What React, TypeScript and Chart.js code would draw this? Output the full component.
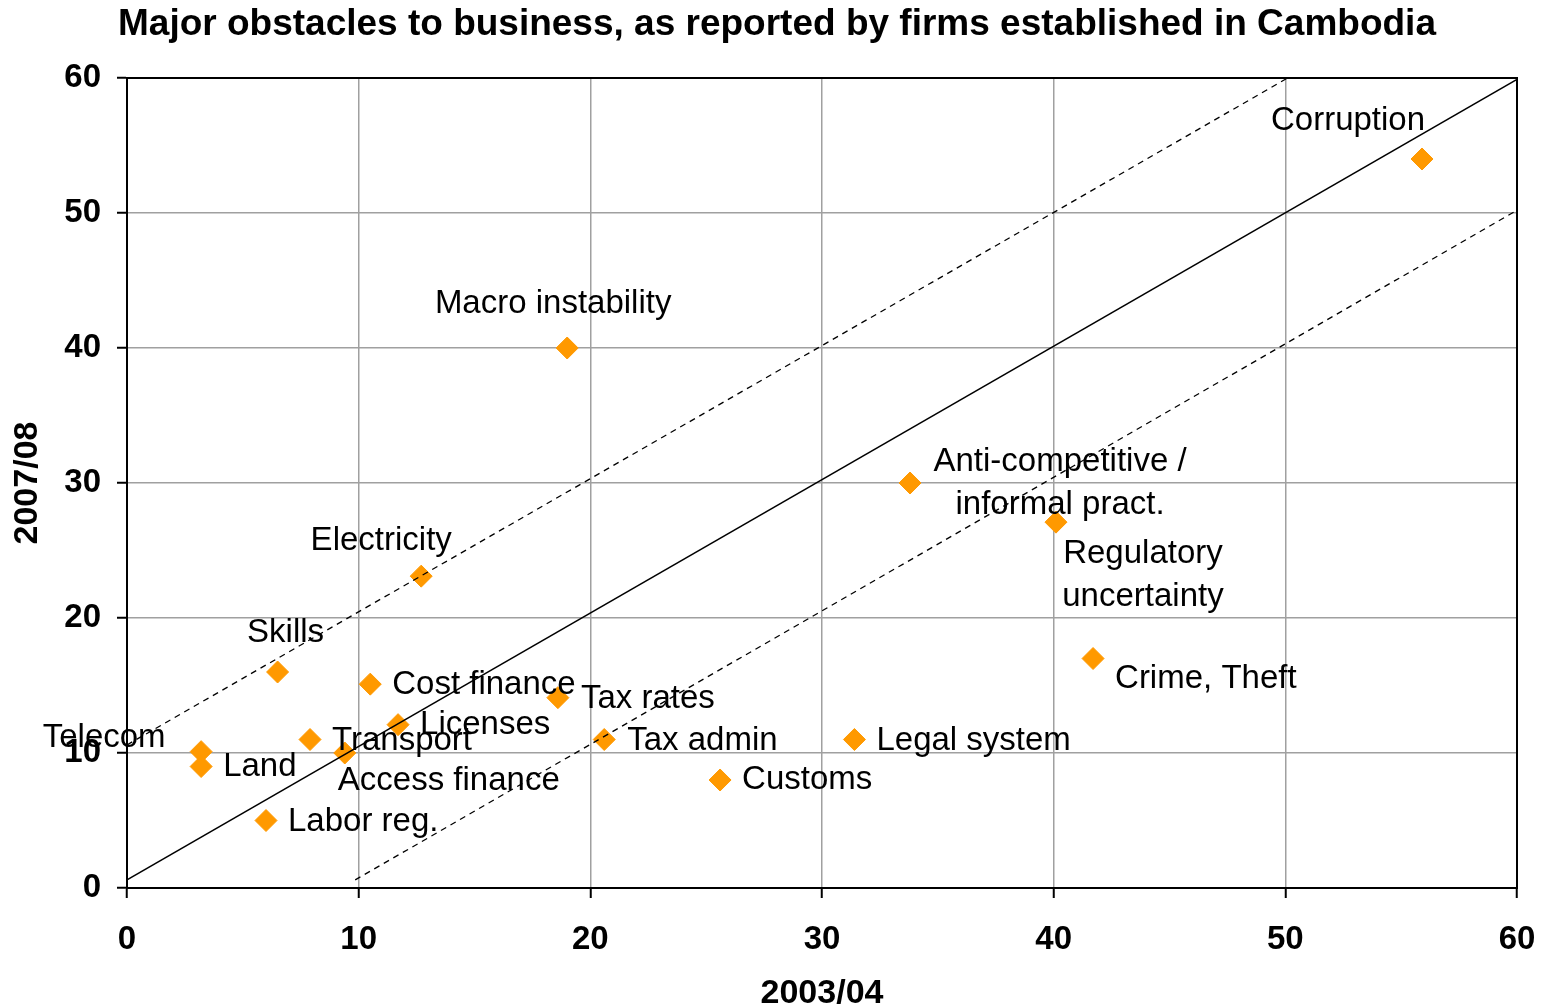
import React, { useEffect, useRef } from 'react';
import { Chart, registerables } from 'chart.js';

Chart.register(...registerables);

const FONT = "'Liberation Sans', Arial, Helvetica, sans-serif";

const CHART_TITLE = 'Major obstacles to business, as reported by firms established in Cambodia';
const X_TITLE = '2003/04';
const Y_TITLE = '2007/08';

const obstacles = [
  'Corruption',
  'Macro instability',
  'Anti-competitive /\ninformal pract.',
  'Regulatory\nuncertainty',
  'Crime, Theft',
  'Electricity',
  'Skills',
  'Cost finance',
  'Tax rates',
  'Licenses',
  'Tax admin',
  'Legal system',
  'Customs',
  'Transport',
  'Access finance',
  'Telecom',
  'Land',
  'Labor reg.',
];
const share2003 = [55.9, 19.0, 33.8, 40.1, 41.7, 12.7, 6.5, 10.5, 18.6, 11.7, 20.6, 31.4, 25.6, 7.9, 9.4, 3.2, 3.2, 6.0];
const share2007 = [54.0, 40.0, 30.0, 27.1, 17.0, 23.1, 16.0, 15.1, 14.1, 12.1, 11.0, 11.0, 8.0, 11.0, 10.0, 10.1, 9.0, 5.0];

// label placement (offsets from marker, in pixels)
const labelAlign = ['center', 'center', 'center', 'center', 'left', 'center', 'center', 'left', 'left', 'left', 'left', 'left', 'left', 'left', 'center', 'center', 'left', 'left'];
const labelDx = [-74, -14, 150, 87, 22, -40, 8, 22, 23, 22, 23, 22, 22, 22, 104, -97, 22, 22];
const labelDy = [-38, -44, 0, 53, 20, -35, -39, 1, 1, 0, 1, 1, 0, 1, 28, -14, 0, 1];

// reference lines
const diagX = [0, 60];
const diagY = [0.6, 59.9];
const upperX = [0, 50.1];
const upperY = [10.6, 60];
const lowerX = [9.85, 60];
const lowerY = [0.6, 50.2];

const AXIS_MIN = 0;
const AXIS_MAX = 60;
const AXIS_STEP = 10;

const toPoints = (xs: number[], ys: number[]) => xs.map((x, i) => ({ x, y: ys[i] }));

const decorations = {
  id: 'decorations',
  beforeDatasetsDraw(chart: any) {
    const { ctx, chartArea: a } = chart;
    ctx.save();
    ctx.strokeStyle = '#000';
    ctx.lineWidth = 2;
    ctx.strokeRect(a.left, a.top, a.right - a.left, a.bottom - a.top);
    ctx.restore();
  },
  afterDraw(chart: any) {
    const ctx = chart.ctx;
    ctx.save();
    ctx.fillStyle = '#000';
    ctx.textBaseline = 'middle';
    ctx.textAlign = 'left';
    ctx.font = `bold 37px ${FONT}`;
    ctx.fillText(CHART_TITLE, 118, 25);
    ctx.font = `33px ${FONT}`;
    const meta = chart.getDatasetMeta(3);
    meta.data.forEach((pt: any, i: number) => {
      const lines = obstacles[i].split('\n');
      const lh = 43;
      const cy = pt.y + labelDy[i] - ((lines.length - 1) * lh) / 2;
      ctx.textAlign = labelAlign[i];
      lines.forEach((ln: string, j: number) => {
        ctx.fillText(ln, pt.x + labelDx[i], cy + j * lh);
      });
    });
    ctx.restore();
  },
};

export default function App() {
  const ref = useRef<HTMLCanvasElement | null>(null);
  useEffect(() => {
    document.body.style.margin = '0';
    document.body.style.overflow = 'hidden';
    Chart.defaults.font.family = FONT;
    const scaleCommon = (tickPad: number) => ({
      type: 'linear' as const,
      min: AXIS_MIN,
      max: AXIS_MAX,
      ticks: {
        stepSize: AXIS_STEP,
        color: '#000',
        font: { size: 33, weight: 'bold' as const },
        padding: tickPad,
        maxRotation: 0,
        autoSkip: false,
      },
      grid: {
        color: '#a0a0a0',
        lineWidth: 1.5,
        tickColor: '#000',
        tickLength: 10,
        tickWidth: 2,
      },
      border: { color: '#000', width: 2 },
    });
    const chart = new Chart(ref.current as HTMLCanvasElement, {
      type: 'scatter',
      data: {
        datasets: [
          {
            data: toPoints(diagX, diagY),
            showLine: true,
            borderColor: '#000',
            borderWidth: 1.5,
            pointRadius: 0,
            fill: false,
          },
          {
            data: toPoints(upperX, upperY),
            showLine: true,
            borderColor: '#000',
            borderWidth: 1.3,
            borderDash: [6, 5],
            pointRadius: 0,
            fill: false,
          },
          {
            data: toPoints(lowerX, lowerY),
            showLine: true,
            borderColor: '#000',
            borderWidth: 1.3,
            borderDash: [6, 5],
            pointRadius: 0,
            fill: false,
          },
          {
            data: toPoints(share2003, share2007),
            pointStyle: 'rectRot',
            pointRadius: 11,
            backgroundColor: '#FF9900',
            borderColor: '#FF9900',
            borderWidth: 1,
          },
        ],
      },
      options: {
        animation: false,
        responsive: false,
        events: [],
        layout: { padding: { left: 0, right: 31, top: 78, bottom: 0 } },
        plugins: { legend: { display: false }, tooltip: { enabled: false }, title: { display: false } },
        scales: {
          x: {
            ...scaleCommon(22),
            title: {
              display: true,
              text: X_TITLE,
              color: '#000',
              font: { size: 34, weight: 'bold', lineHeight: 0.85 },
              padding: 0,
            },
            afterFit: (s: any) => {
              s.height = 120;
              s.paddingLeft = 0;
              s.paddingRight = 0;
            },
          },
          y: {
            ...scaleCommon(16),
            title: {
              display: true,
              text: Y_TITLE,
              color: '#000',
              font: { size: 34, weight: 'bold', lineHeight: 1.2 },
              padding: { top: 7, bottom: 0 },
            },
            afterFit: (s: any) => {
              s.width = 127;
              s.paddingTop = 0;
              s.paddingBottom = 0;
            },
          },
        },
      } as any,
      plugins: [decorations],
    });
    return () => chart.destroy();
  }, []);
  return <canvas ref={ref} width={1548} height={1008} style={{ display: 'block' }} />;
}
